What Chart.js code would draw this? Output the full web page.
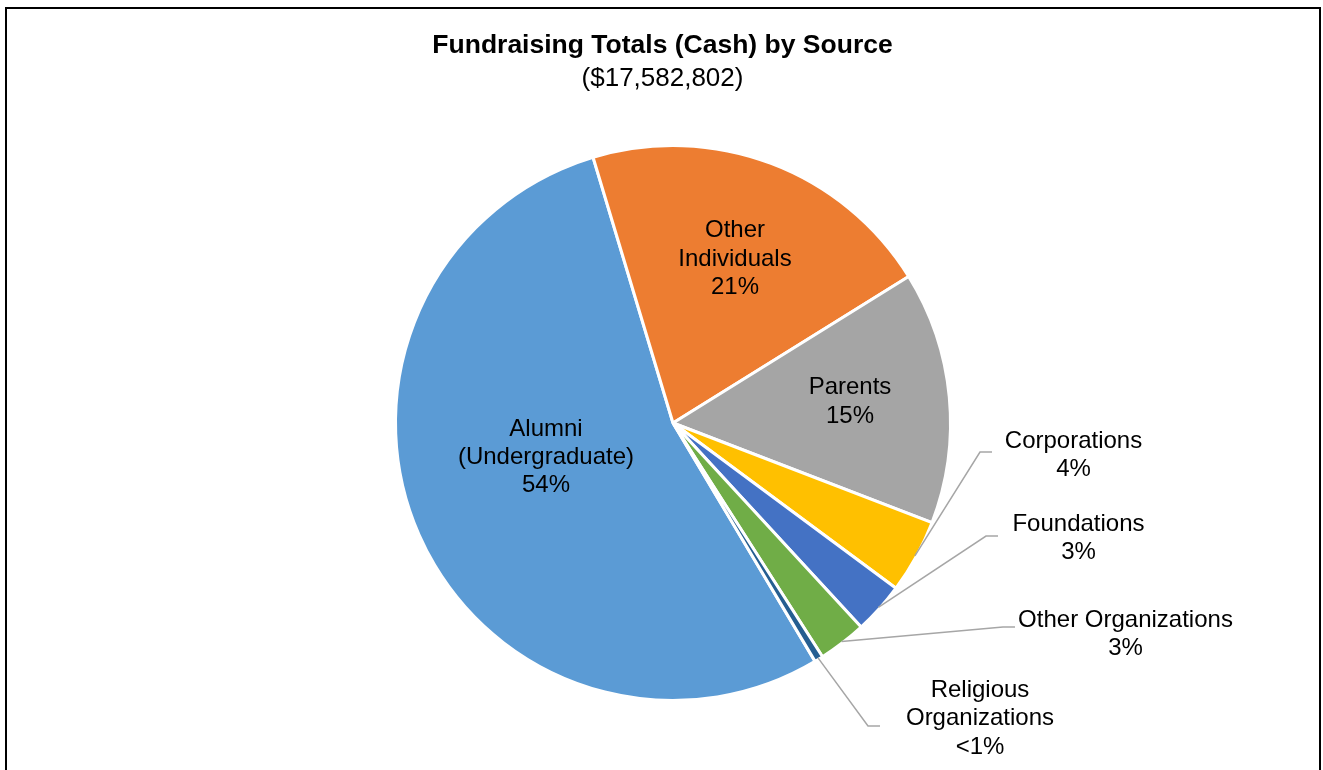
<!DOCTYPE html>
<html>
<head>
<meta charset="utf-8">
<script src="https://cdn.jsdelivr.net/npm/chart.js@4"></script>
<style>
  html, body { margin: 0; padding: 0; background: #fff; }
  canvas { display: block; }
</style>
</head>
<body>
<canvas id="pieChart" width="1323" height="770"></canvas>
<script>
const categories = ['Alumni (Undergraduate)', 'Other Individuals', 'Parents', 'Corporations', 'Foundations', 'Other Organizations', 'Religious Organizations'];
const amounts = [9477802, 3657000, 2585000, 756000, 527000, 492000, 88000];
const sliceColors = ['#5B9BD5', '#ED7D31', '#A5A5A5', '#FFC000', '#4472C4', '#70AD47', '#255E91'];
const chartTitle = 'Fundraising Totals (Cash) by Source';
const chartSubtitle = '($17,582,802)';

const FONT = '"Liberation Sans", Arial, sans-serif';
const BASE_R = 277.5;

// where each label sits, relative to the pie centre (px at BASE_R)
const labelLayout = [
  { dx: -127, dy: 34.5, wrap: true },
  { dx: 62, dy: -164, wrap: true },
  { dx: 177, dy: -21 },
  { dx: 400.5, dy: 32.2, lead: [319, 29] },
  { dx: 405.5, dy: 115.3, lead: [325, 113] },
  { dx: 452.5, dy: 211.4, lead: [342, 204] },
  { dx: 307, dy: 295.7, wrap: true, lead: [207, 303] }
];

const frame = {
  id: 'frame',
  beforeDraw(chart) {
    const ctx = chart.ctx;
    ctx.save();
    ctx.fillStyle = '#fff';
    ctx.fillRect(0, 0, chart.width, chart.height);
    ctx.strokeStyle = '#000';
    ctx.lineWidth = 2;
    ctx.strokeRect(6, 8, chart.width - 9, chart.height + 40);

    ctx.fillStyle = '#000';
    ctx.textAlign = 'center';
    ctx.textBaseline = 'alphabetic';
    ctx.font = 'bold 26.5px ' + FONT;
    ctx.fillText(chartTitle, 662.5, 53);
    ctx.font = '26px ' + FONT;
    ctx.fillText(chartSubtitle, 662.5, 86);
    ctx.restore();
  }
};

const sliceLabels = {
  id: 'sliceLabels',
  afterDatasetsDraw(chart) {
    const ctx = chart.ctx;
    const meta = chart.getDatasetMeta(0);
    const total = amounts.reduce((a, b) => a + b, 0);
    ctx.save();
    meta.data.forEach((arc, i) => {
      const p = arc.getProps(['x', 'y', 'startAngle', 'endAngle', 'outerRadius']);
      const k = p.outerRadius / BASE_R;
      const lay = labelLayout[i];
      const pct = amounts[i] / total * 100;
      const pctText = pct < 1 ? '<1%' : Math.round(pct) + '%';
      const name = categories[i];
      const cut = name.indexOf(' ');
      const lines = (lay.wrap && cut > 0) ? [name.slice(0, cut), name.slice(cut + 1)] : [name];
      lines.push(pctText);

      if (lay.lead) {
        const mid = (p.startAngle + p.endAngle) / 2;
        const r0 = p.outerRadius - 1.5;
        const ex = p.x + lay.lead[0] * k;
        const ey = p.y + lay.lead[1] * k;
        ctx.strokeStyle = '#A6A6A6';
        ctx.lineWidth = 1.5;
        ctx.beginPath();
        ctx.moveTo(p.x + Math.cos(mid) * r0, p.y + Math.sin(mid) * r0);
        ctx.lineTo(ex - 12, ey);
        ctx.lineTo(ex, ey);
        ctx.stroke();
      }

      const cx = p.x + lay.dx * k;
      const cy = p.y + lay.dy * k;
      const lh = 28.3;
      ctx.fillStyle = '#000';
      ctx.font = '24px ' + FONT;
      ctx.textAlign = 'center';
      ctx.textBaseline = 'middle';
      lines.forEach((t, j) => {
        ctx.fillText(t, cx, cy + (j - (lines.length - 1) / 2) * lh);
      });
    });
    ctx.restore();
  }
};

new Chart(document.getElementById('pieChart'), {
  type: 'pie',
  data: {
    labels: categories,
    datasets: [{
      data: amounts,
      backgroundColor: sliceColors,
      borderColor: '#fff',
      borderWidth: 3,
      radius: BASE_R
    }]
  },
  options: {
    responsive: false,
    animation: false,
    events: [],
    rotation: 149.2,
    layout: { padding: { left: 123, right: 100, top: 110, bottom: 34 } },
    plugins: {
      legend: { display: false },
      tooltip: { enabled: false },
      title: { display: false }
    }
  },
  plugins: [frame, sliceLabels]
});
</script>
</body>
</html>
